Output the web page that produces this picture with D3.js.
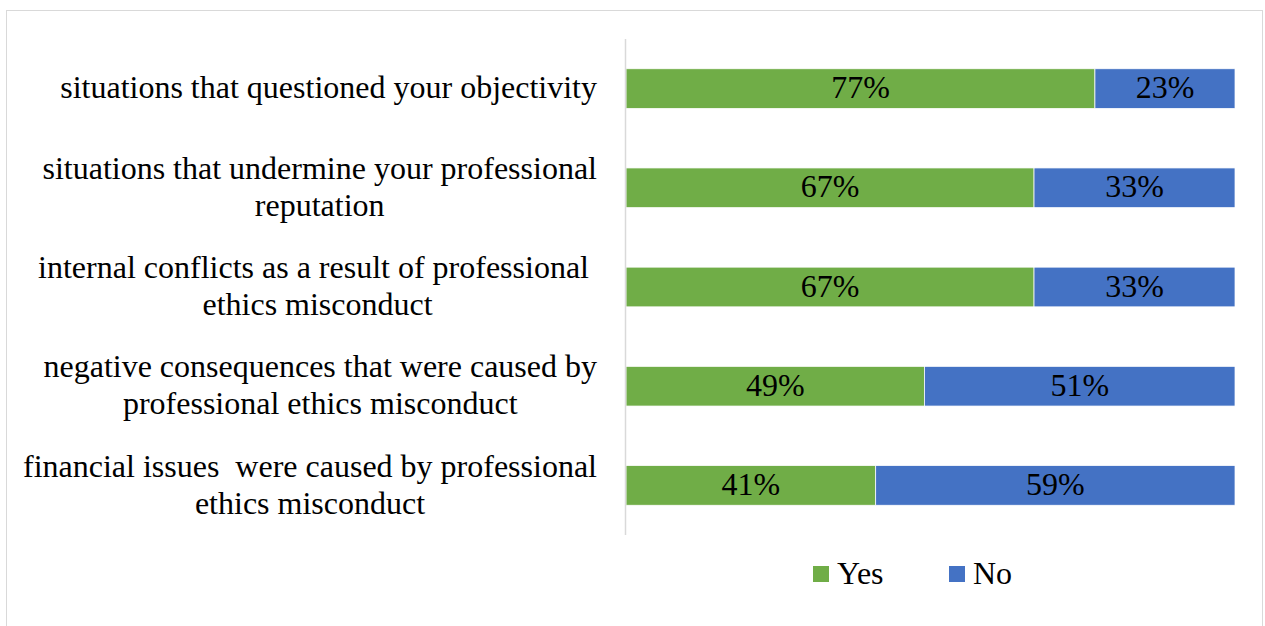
<!DOCTYPE html>
<html>
<head>
<meta charset="utf-8">
<script src="https://cdn.jsdelivr.net/npm/d3@7"></script>
<style>
  html, body { margin: 0; padding: 0; background: #fff; }
  svg { display: block; }
  text { font-family: "Liberation Serif", "Times New Roman", serif; fill: #000; white-space: pre; }
</style>
</head>
<body>
<svg id="chart" width="1265" height="626"></svg>
<script>
// Survey categories (top to bottom), each line of a label as an array entry
const categories = [
  ["situations that questioned your objectivity"],
  ["situations that undermine your professional", "reputation"],
  ["internal conflicts as a result of professional ", "ethics misconduct"],
  ["negative consequences that were caused by", "professional ethics misconduct"],
  ["financial issues  were caused by professional", "ethics misconduct"]
];
const yesValues = [77, 67, 67, 49, 41];
const noValues  = [23, 33, 33, 51, 59];
const seriesNames = ["Yes", "No"];
const seriesColors = ["#70ad47", "#4472c4"];

const FONT = 32;
const svg = d3.select("#chart");

// outer frame
svg.append("rect")
  .attr("x", 6.5).attr("y", 10.5)
  .attr("width", 1256).attr("height", 630)
  .attr("fill", "none").attr("stroke", "#d9d9d9").attr("stroke-width", 1);

const plot = { left: 626, right: 1235, top: 39, bottom: 535 };

const x = d3.scaleLinear().domain([0, 100]).range([plot.left, plot.right]);
const y = d3.scaleBand()
  .domain(d3.range(categories.length))
  .range([plot.top, plot.bottom])
  .paddingInner(0.6).paddingOuter(0.3);

const rows = categories.map((c, i) => ({ i, label: c }));
const stackData = rows.map(r => ({ i: r.i, Yes: yesValues[r.i], No: noValues[r.i] }));
const stacked = d3.stack().keys(seriesNames)(stackData);

const g = svg.append("g");
stacked.forEach((layer, k) => {
  const sg = g.append("g");
  sg.selectAll("rect").data(layer).join("rect")
    .attr("x", d => x(d[0]))
    .attr("y", d => y(d.data.i))
    .attr("width", d => x(d[1]) - x(d[0]))
    .attr("height", y.bandwidth())
    .attr("fill", seriesColors[k])
    .attr("stroke", "#fff").attr("stroke-width", 0.75);
  sg.selectAll("text").data(layer).join("text")
    .attr("x", d => (x(d[0]) + x(d[1])) / 2)
    .attr("y", d => y(d.data.i) + y.bandwidth() / 2)
    .attr("dy", "0.3em")
    .attr("text-anchor", "middle")
    .attr("font-size", FONT)
    .text(d => (d[1] - d[0]) + "%");
});

// vertical category axis line
svg.append("line")
  .attr("x1", plot.left - 0.5).attr("x2", plot.left - 0.5)
  .attr("y1", plot.top).attr("y2", plot.bottom)
  .attr("stroke", "#d9d9d9").attr("stroke-width", 1.5);

// category labels: block right-aligned to the axis, lines centred within the block
const labelRight = 597;
const lineH = 37;
const labels = svg.append("g");
rows.forEach(r => {
  const cy = y(r.i) + y.bandwidth() / 2;
  const n = r.label.length;
  const t = labels.append("text")
    .attr("text-anchor", "middle")
    .attr("font-size", FONT);
  const spans = r.label.map((line, j) =>
    t.append("tspan")
      .attr("y", cy + (j - (n - 1) / 2) * lineH)
      .attr("dy", "0.3em")
      .text(line));
  const maxW = d3.max(spans, s => s.node().getComputedTextLength());
  spans.forEach(s => s.attr("x", labelRight - maxW / 2));
});

// legend
const legendItems = [
  { name: seriesNames[0], color: seriesColors[0], x: 813 },
  { name: seriesNames[1], color: seriesColors[1], x: 949 }
];
const lg = svg.append("g");
legendItems.forEach(it => {
  lg.append("rect").attr("x", it.x).attr("y", 566).attr("width", 16).attr("height", 16).attr("fill", it.color);
  lg.append("text").attr("x", it.x + 24).attr("y", 574).attr("dy", "0.3em")
    .attr("font-size", FONT).text(it.name);
});
</script>
</body>
</html>
